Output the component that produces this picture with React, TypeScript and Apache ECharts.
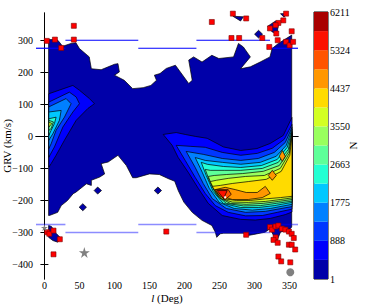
import React, { useEffect, useRef } from "react";
import * as echarts from "echarts";

// ---- axis ticks ----
const xTicks = [0, 50, 100, 150, 200, 250, 300, 350];
const yTicks = [-400, -300, -200, -100, 0, 100, 200, 300];
const cbTicks = [1, 888, 1775, 2663, 3550, 4437, 5324, 6211];
const cbLevels = [1, 445, 888, 1332, 1775, 2219, 2663, 3106, 3550, 3993, 4437, 4880, 5324, 5767, 6211];
const levelColors = [
  "#0000A9", "#0000FC", "#0037FF", "#0080FF", "#00C8FF", "#23FFD3", "#5EFF99",
  "#99FF5E", "#D3FF23", "#FFDB00", "#FF9700", "#FF5400", "#FC1000", "#A90000",
];

// ---- contour polygons (l, GRV) ----
const navyMain = [
  [6, 302], [18, 302], [21, 295], [26, 281], [38, 290], [45, 292], [50, 274], [64, 248], [67, 211],
  [81, 208], [100, 225], [105, 227], [107, 201], [100, 191], [114, 175], [126, 149], [141, 152],
  [152, 159], [160, 175], [157, 191], [165, 196], [174, 212], [187, 222], [206, 165], [211, 175],
  [206, 238], [213, 248], [225, 232], [239, 253], [249, 243], [270, 248], [277, 290], [284, 279],
  [294, 248], [280, 211], [294, 217], [308, 232], [322, 248], [325, 274], [334, 290], [353, 316],
  [353, -283], [351, -288], [337, -299], [332, -325], [327, -309], [322, -288], [315, -299],
  [308, -302], [299, -306], [291, -309], [287, -302], [256, -302], [251, -304], [246, -315],
  [244, -299], [239, -278], [225, -262], [211, -237], [199, -205], [191, -169], [186, -140],
  [178, -133], [164, -119], [150, -117], [131, -129], [126, -129], [117, -91], [105, -59],
  [91, -80], [81, -85], [86, -117], [79, -127], [67, -137], [67, -153], [60, -148], [45, -174],
  [41, -179], [33, -200], [24, -216], [19, -237], [7, -247], [6, -247],
];
const navyBlob = [[6, -278], [10, -281], [17, -303], [24, -319], [19, -330], [12, -325], [6, -315]];
const navyDiamondA = [[71, -169], [76, -158], [81.5, -169], [76, -180]];
const navyDiamondB = [[49.6, -221], [54.8, -210], [60, -221], [54.8, -232]];
const navyDiamondC = [[156.8, -169], [162, -158], [167.2, -169], [162, -180]];
const navyDiamondD = [[300, 319], [305.7, 331], [311.4, 319], [305.7, 307]];
const navyPieceA = [[269, 375], [284, 373], [280, 360]];
const navyPieceB = [[337, 383], [347, 383], [342, 372]];
const navyPieceC = [[319, 344], [330, 360], [334, 347], [332, 321], [325, 326]];

const leftL1 = [[6.3, 133], [40.6, 159], [50, 144], [64.3, 118], [71.4, 102], [62, 87], [45.3, 50], [28.6, -12], [16.7, -59], [9.6, -85], [6.3, -96]];
const leftL2 = [[6.3, 107], [35.7, 138], [45.3, 123], [50, 102], [40.6, 76], [26.3, 29], [14.3, -33], [6.3, -65]];
const leftL3 = [[6.3, 92], [31, 118], [38.1, 102], [28.6, 60], [16.7, 19], [9.6, -23], [6.3, -38]];
const leftL4 = [[6.3, 76], [23.9, 81], [21.4, 50], [12, 8], [6.3, -12]];
const leftL5 = [[6.3, 55], [16.7, 60], [14.3, 40], [9.6, 19], [6.3, 3]];
const leftL6 = [[6.3, 50], [12.9, 45], [9.6, 24], [6.3, 19]];
const leftL7 = [[6.3, 45], [10.6, 40], [6.3, 29]];

const arcL1 = [
  [169.6, 6], [182.4, -28], [191, -66], [205.3, -112], [219.6, -162], [233.9, -209], [253.9, -247],
  [280.3, -259], [301, -261], [322.4, -256], [343.9, -244], [353.4, -236],
  [353.4, 59], [341, 3], [322.4, -22], [303.4, -38], [280.3, -44], [255.7, -33], [232.4, -6],
  [215.3, 0], [201, 6], [188.1, 12],
];
const arcL2 = [
  [188.1, -28], [201, -75], [215.3, -128], [229.6, -178], [243.9, -216], [262.4, -237], [287.3, -248],
  [311, -247], [332.4, -237], [353.4, -227],
  [353.4, 37], [342.4, -9], [325.3, -37], [303.9, -53], [280.3, -59], [253.9, -50], [229.6, -34], [208.1, -31],
];
const arcL3 = [
  [202.4, -47], [215.3, -97], [226.7, -147], [239.6, -194], [259.6, -225], [287.3, -237], [315.3, -234],
  [353.4, -219],
  [353.4, 28], [343.9, -19], [328.1, -50], [305.3, -69], [280.3, -75], [253.9, -69], [226.7, -56],
];
const arcL4 = [
  [215.3, -66], [225.3, -112], [235.3, -162], [249.6, -206], [271, -225], [296.7, -230], [322.4, -225],
  [353.4, -212],
  [353.4, 22], [345.3, -28], [331, -62], [308.1, -81], [280.3, -87], [253.9, -81], [229.6, -75],
];
const arcL5 = [
  [223.9, -81], [231, -122], [241, -172], [255.3, -209], [280.3, -222], [305.3, -222], [328.1, -216],
  [353.4, -206],
  [353.4, 16], [346.7, -34], [332.4, -72], [309.6, -91], [280.3, -97], [255.7, -94], [232.4, -87],
];
const arcL6 = [
  [229.6, -103], [235.3, -137], [245.3, -181], [259.6, -209], [284.4, -217], [308.1, -216], [331, -209],
  [353.4, -202],
  [353.4, 12], [348.1, -41], [333.9, -81], [311, -100], [280.3, -106], [256.7, -106], [236.7, -106],
];
const arcL7 = [
  [233.9, -125], [239.6, -156], [249.6, -191], [265.3, -209], [288.1, -212], [312.4, -209], [333.9, -203],
  [353.4, -197],
  [353.4, 9], [348.9, -47], [335.3, -91], [312.4, -109], [283, -116], [259.6, -119], [242.4, -122],
];
const arcL8 = [
  [236.7, -141], [242.4, -166], [252.4, -194], [268.1, -205], [291, -206], [315.3, -203], [336.7, -197],
  [353.4, -192],
  [353.4, 6], [349.6, -53], [336.7, -100], [313.9, -122], [287.3, -125], [262.4, -131], [245.3, -137],
];
const arcL9 = [
  [239.6, -156], [245.3, -175], [256.7, -195], [273.9, -200], [293.9, -200], [315.3, -195], [336.7, -191],
  [353.4, -187],
  [353.4, 3], [350.3, -59], [338.1, -109], [316.7, -134], [291, -141], [268.1, -147], [251, -153],
];
const arcL10 = [
  [243.9, -166], [252.4, -186], [268.1, -197], [291, -197], [311, -191], [322.4, -178], [315.3, -156],
  [303.9, -175], [288.1, -175], [272.4, -166], [258.1, -159],
];
const arcL10b = [[319.6, -122], [325.3, -106], [331, -122], [325.3, -137]];
const arcL10c = [[335.3, -62], [339.6, -44], [343.9, -62], [339.6, -78]];
const arcL11 = [[243.9, -166], [262.4, -166], [266.7, -181], [258.1, -197], [249.6, -184]];
const arcL12 = [[246.7, -169], [261, -169], [255.7, -194]];

const contourLayers = [
  { pts: navyMain, lvl: 0 }, { pts: navyBlob, lvl: 0 }, { pts: navyDiamondA, lvl: 0 },
  { pts: navyDiamondB, lvl: 0 }, { pts: navyDiamondC, lvl: 0 }, { pts: navyDiamondD, lvl: 0 },
  { pts: navyPieceA, lvl: 0 }, { pts: navyPieceB, lvl: 0 }, { pts: navyPieceC, lvl: 0 },
  { pts: leftL1, lvl: 1 }, { pts: leftL2, lvl: 2 }, { pts: leftL3, lvl: 3 }, { pts: leftL4, lvl: 4 },
  { pts: leftL5, lvl: 5 }, { pts: leftL6, lvl: 6 }, { pts: leftL7, lvl: 8 },
  { pts: arcL1, lvl: 1 }, { pts: arcL2, lvl: 2 }, { pts: arcL3, lvl: 3 }, { pts: arcL4, lvl: 4 },
  { pts: arcL5, lvl: 5 }, { pts: arcL6, lvl: 6 }, { pts: arcL7, lvl: 7 }, { pts: arcL8, lvl: 8 },
  { pts: arcL9, lvl: 9 }, { pts: arcL10, lvl: 10 }, { pts: arcL10b, lvl: 10 }, { pts: arcL10c, lvl: 10 },
  { pts: arcL11, lvl: 11 }, { pts: arcL12, lvl: 12 },
];

// ---- boundary lines [lStart, lEnd, GRV] ----
const topBoundary = [[-12, 30, 275], [30, 134, 300], [134, 217, 275], [217, 322, 300], [322, 362, 275]];
const bottomBoundary = [[-12, 30, -275], [30, 134, -300], [134, 217, -275], [217, 322, -300], [322, 362, -275]];

// ---- markers ----
const redSquares = [
  [3.4, 298], [15, 302], [24, 276], [42, 345], [42, 302],
  [269, 383], [239, 357], [288, 368], [267, 307], [278, 307], [311, 307], [345, 383], [341, 362],
  [334, 354], [330, 347], [322, 337], [331, 321], [353, 328], [333, 300], [345, 295], [350, 284],
  [355, 295], [321, 279],
  [4, -299], [7, -304], [13, -294], [22, -321], [13, -368], [174, -297],
  [288, -307], [322, -283], [325, -291], [330, -281], [334, -278], [339, -288], [344, -291],
  [349, -297], [353, -304], [330, -315], [327, -323], [356, -317], [333, -332], [349, -338],
  [353, -338], [358, -353], [334, -375], [338, -390], [351, -393],
];
const greyStarLarge = [[57, -362]];
const greyStarSmall = [[0, -285]];
const greyCircle = [[351, -424]];
const peakPoint = [[258, -190]];

const FONT = "Liberation Serif, DejaVu Serif, serif";
const STAR = "path://M50,0 L61,35 L98,35 L68,57 L79,91 L50,70 L21,91 L32,57 L2,35 L39,35 Z";
const minus = (v: number) => String(v).replace("-", "\u2212");

const segmentSeries = (segs: number[][], color: string, width: number, opacity: number) => ({
  type: "custom", xAxisIndex: 0, yAxisIndex: 0, z: 3, clip: true,
  data: segs.map((s) => [s[0], s[2], s[1]]),
  renderItem: (params: any, api: any) => {
    const a = api.coord([api.value(0), api.value(1)]);
    const b = api.coord([api.value(2), api.value(1)]);
    return {
      type: "line",
      shape: { x1: a[0], y1: a[1], x2: b[0], y2: b[1] },
      style: { stroke: color, lineWidth: width, opacity },
    };
  },
});

export default function App() {
  const ref = useRef<HTMLDivElement>(null);
  useEffect(() => {
    if (!ref.current) return;
    const chart = echarts.init(ref.current, null, { renderer: "svg" });
    const label = { fontFamily: FONT, fontSize: 10, color: "#000" };
    const tickStyle = { lineStyle: { color: "#000", width: 1 } };
    chart.setOption({
      animation: false,
      backgroundColor: "#fff",
      grid: [
        { left: 36, top: 13, width: 262, height: 266, outerBoundsMode: "none", containLabel: false },
        { left: 314, top: 12, width: 14, height: 267, outerBoundsMode: "none", containLabel: false, show: true, borderColor: "#000", borderWidth: 1, backgroundColor: "transparent" },
      ],
      xAxis: [
        {
          type: "value", gridIndex: 0, min: -12, max: 362, position: "bottom",
          axisLine: { show: true, lineStyle: { color: "#000", width: 1 } },
          axisTick: { show: true, inside: true, length: 4, customValues: xTicks, ...tickStyle },
          axisLabel: { ...label, margin: 1, customValues: xTicks, formatter: minus },
          splitLine: { show: false },
          name: "{it|l} (Deg)", nameLocation: "middle", nameGap: 13, nameMoveOverlap: false,
          nameTextStyle: { fontFamily: FONT, fontSize: 11, color: "#000", rich: { it: { fontStyle: "italic", fontFamily: FONT, fontSize: 11, color: "#000" } } },
        },
        {
          type: "value", gridIndex: 0, min: -12, max: 362, position: "top",
          axisLine: { show: true, lineStyle: { color: "#000", width: 1 } },
          axisTick: { show: true, inside: true, length: 4, customValues: xTicks, ...tickStyle },
          axisLabel: { show: false }, splitLine: { show: false },
        },
        { type: "value", gridIndex: 1, min: 0, max: 1, show: false },
      ],
      yAxis: [
        {
          type: "value", gridIndex: 0, min: -445, max: 385, position: "left",
          axisLine: { show: true, lineStyle: { color: "#000", width: 1 } },
          axisTick: { show: true, inside: true, length: 4, customValues: yTicks, ...tickStyle },
          axisLabel: { ...label, margin: 3, customValues: yTicks, formatter: minus },
          splitLine: { show: false },
          name: "GRV (km/s)", nameLocation: "middle", nameGap: 24, nameRotate: 90, nameMoveOverlap: false,
          nameTextStyle: { fontFamily: FONT, fontSize: 11, color: "#000" },
        },
        {
          type: "value", gridIndex: 0, min: -445, max: 385, position: "right",
          axisLine: { show: true, lineStyle: { color: "#000", width: 1 } },
          axisTick: { show: true, inside: true, length: 4, customValues: yTicks, ...tickStyle },
          axisLabel: { show: false }, splitLine: { show: false },
        },
        {
          type: "value", gridIndex: 1, min: 1, max: 6211, position: "right",
          axisLine: { show: false }, axisTick: { show: false }, splitLine: { show: false },
          axisLabel: { ...label, margin: 2, customValues: cbTicks, formatter: (v: number) => String(v) },
          name: "N", nameLocation: "middle", nameGap: 19, nameRotate: 90, nameMoveOverlap: false,
          nameTextStyle: { fontFamily: FONT, fontSize: 11, color: "#000" },
        },
      ],
      series: [
        {
          type: "custom", xAxisIndex: 0, yAxisIndex: 0, clip: true, z: 1,
          data: contourLayers.map((c) => [c.pts[0][0], c.pts[0][1]]),
          renderItem: (params: any, api: any) => {
            const layer = contourLayers[params.dataIndex];
            return {
              type: "polygon",
              shape: { points: layer.pts.map((p) => api.coord(p)) },
              style: { fill: levelColors[layer.lvl], stroke: "#000", lineWidth: 0.7 },
            };
          },
        },
        segmentSeries(topBoundary, "#0000FF", 1.2, 1),
        segmentSeries(bottomBoundary, "#0000FF", 1.6, 0.45),
        {
          type: "scatter", xAxisIndex: 0, yAxisIndex: 0, z: 4, symbol: "rect", symbolSize: 5,
          data: redSquares,
          itemStyle: { color: "#FF0000", borderColor: "#7A0000", borderWidth: 0.6, opacity: 1 },
        },
        {
          type: "scatter", xAxisIndex: 0, yAxisIndex: 0, z: 4, symbol: STAR, symbolSize: 11,
          data: greyStarLarge, itemStyle: { color: "#808080", opacity: 1 },
        },
        {
          type: "scatter", xAxisIndex: 0, yAxisIndex: 0, z: 4, symbol: STAR, symbolSize: 7,
          data: greyStarSmall, itemStyle: { color: "#808080", opacity: 1 },
        },
        {
          type: "scatter", xAxisIndex: 0, yAxisIndex: 0, z: 4, symbol: "circle", symbolSize: 8,
          data: greyCircle, itemStyle: { color: "#808080", opacity: 1 },
        },
        {
          type: "scatter", xAxisIndex: 0, yAxisIndex: 0, z: 4, symbol: "rect", symbolSize: 2,
          data: peakPoint, itemStyle: { color: "#FFFFFF", opacity: 1 },
        },
        {
          type: "custom", xAxisIndex: 2, yAxisIndex: 2, z: 1,
          data: levelColors.map((_, i) => [0.5, cbLevels[i], cbLevels[i + 1]]),
          renderItem: (params: any, api: any) => {
            const lo = api.coord([0, api.value(1)]);
            const hi = api.coord([0, api.value(2)]);
            const cs = params.coordSys;
            return {
              type: "rect",
              shape: { x: cs.x, y: hi[1], width: cs.width, height: lo[1] - hi[1] },
              style: { fill: levelColors[params.dataIndex] },
            };
          },
        },
      ],
    });
    return () => chart.dispose();
  }, []);
  return <div ref={ref} style={{ position: "fixed", left: 0, top: 0, width: 367, height: 306 }} />;
}
